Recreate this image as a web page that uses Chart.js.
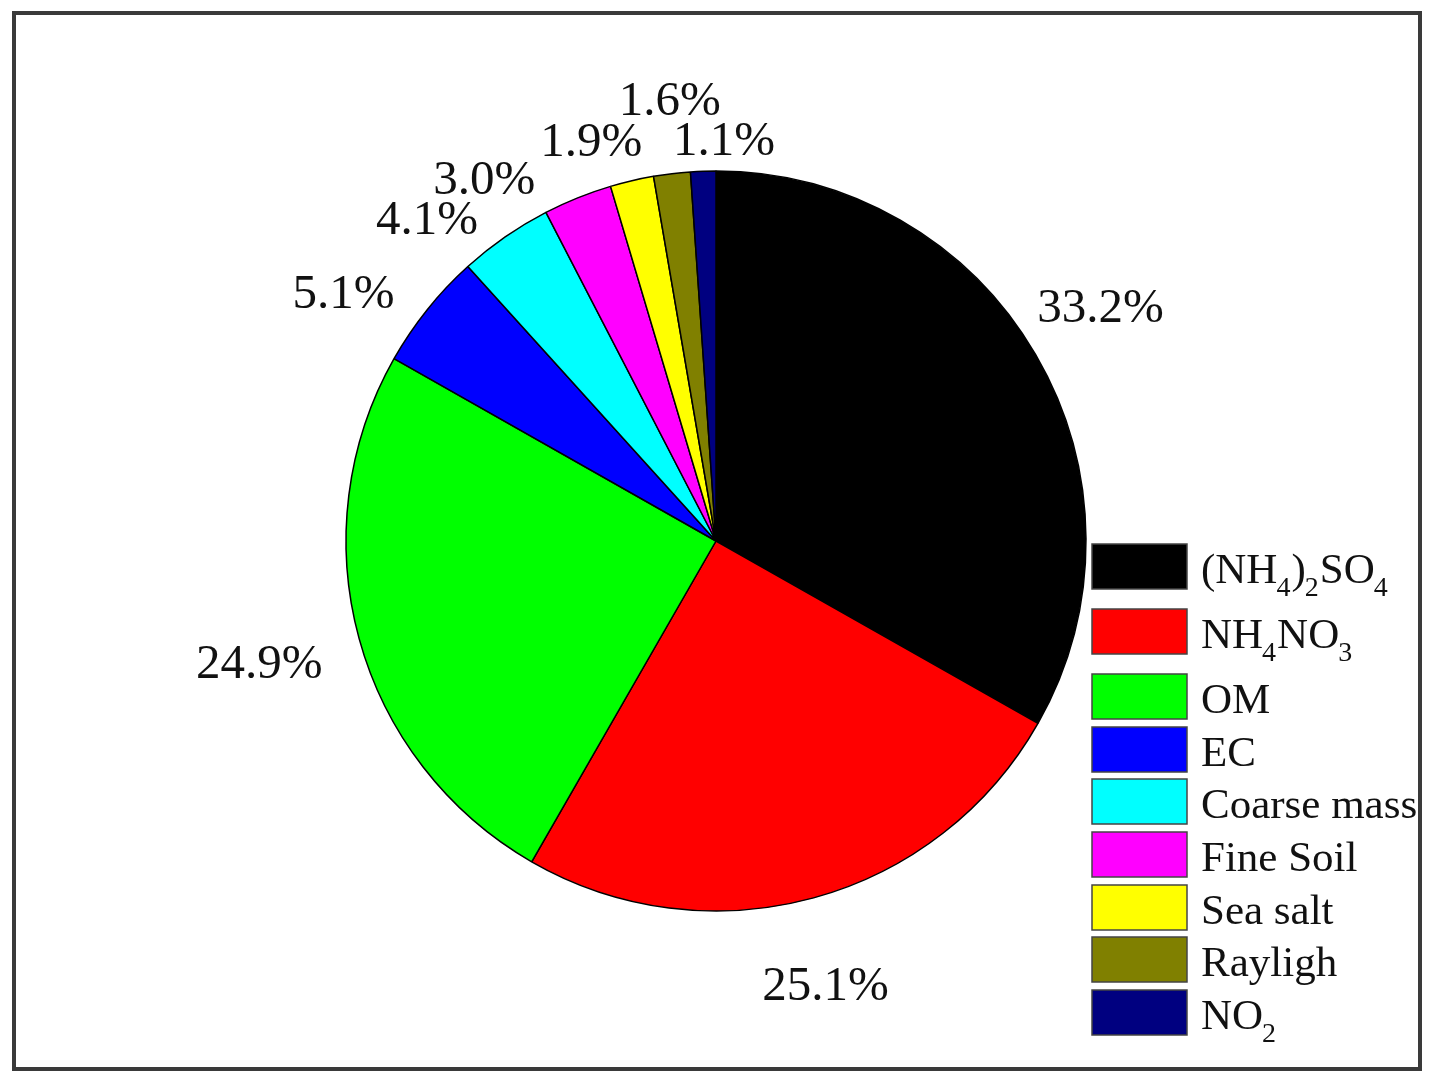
<!DOCTYPE html>
<html>
<head>
<meta charset="utf-8">
<script src="https://cdn.jsdelivr.net/npm/chart.js@4.4.0/dist/chart.umd.min.js"></script>
<style>
    html, body { margin: 0; padding: 0; background: #fff; }
    #wrap { width: 1437px; height: 1088px; position: relative; }
</style>
</head>
<body>
<div id="wrap"><canvas id="pieChart" width="1437" height="1088"></canvas></div>
<script>
// chart data
const categories = ['(NH4)2SO4', 'NH4NO3', 'OM', 'EC', 'Coarse mass', 'Fine Soil', 'Sea salt', 'Rayligh', 'NO2'];
const shares = [33.2, 25.1, 24.9, 5.1, 4.1, 3.0, 1.9, 1.6, 1.1];
const sliceColors = ['#000000', '#ff0000', '#00ff00', '#0000ff', '#00ffff', '#ff00ff', '#ffff00', '#808000', '#000080'];

// where the percent labels sit, nudged from the slice middle
const labelShift = [[13, -15], [-4, 31], [-42, 11], [-37, 23], [-44, 33], [-71, 39], [-27, 21], [5, -12], [23, 31]];

const serif = '"Times New Roman", "Liberation Serif", serif';
const textColor = '#111';

// formula labels: digits drawn as subscripts
function drawFormula(ctx, text, x, y, size) {
    let cx = x;
    for (const ch of text) {
        if (/[0-9]/.test(ch)) {
            ctx.font = Math.round(size * 0.64) + 'px ' + serif;
            ctx.fillText(ch, cx - 1, y + 13);
        } else {
            ctx.font = size + 'px ' + serif;
            ctx.fillText(ch, cx, y);
        }
        cx += ctx.measureText(ch).width;
    }
}

const decorations = {
    id: 'decorations',
    afterDraw(chart) {
        const ctx = chart.ctx;
        const meta = chart.getDatasetMeta(0);
        ctx.save();

        // outer frame
        ctx.strokeStyle = '#3a3a3a';
        ctx.lineWidth = 4;
        ctx.strokeRect(14, 13, 1406, 1056);

        // percent labels
        ctx.fillStyle = textColor;
        ctx.font = '49px ' + serif;
        ctx.textAlign = 'center';
        ctx.textBaseline = 'middle';
        meta.data.forEach((arc, i) => {
            const mid = (arc.startAngle + arc.endAngle) / 2;
            const d = arc.outerRadius + 60;
            const x = arc.x + Math.cos(mid) * d + labelShift[i][0];
            const y = arc.y + Math.sin(mid) * d + labelShift[i][1];
            ctx.fillText(shares[i].toFixed(1) + '%', x, y);
        });

        // legend
        const boxX = 1092, boxW = 95, boxH = 45;
        const rowTops = [544, 609, 674, 727, 779, 832, 885, 937, 990];
        ctx.textAlign = 'left';
        ctx.textBaseline = 'alphabetic';
        categories.forEach((name, i) => {
            const top = rowTops[i];
            ctx.fillStyle = sliceColors[i];
            ctx.fillRect(boxX, top, boxW, boxH);
            ctx.strokeStyle = '#444';
            ctx.lineWidth = 1.5;
            ctx.strokeRect(boxX, top, boxW, boxH);
            ctx.fillStyle = textColor;
            drawFormula(ctx, name, 1201, top + 39, 43);
        });

        ctx.restore();
    }
};

const config = {
    type: 'pie',
    data: {
        labels: categories,
        datasets: [{
            data: shares,
            backgroundColor: sliceColors,
            borderColor: '#000',
            borderWidth: 1.5,
            hoverOffset: 0
        }]
    },
    options: {
        responsive: false,
        animation: false,
        radius: 370,
        layout: { padding: { left: 0, right: 5, top: 0, bottom: 6 } },
        plugins: {
            legend: { display: false },
            tooltip: { enabled: false }
        },
        events: []
    },
    plugins: [decorations]
};

new Chart(document.getElementById('pieChart'), config);
</script>
</body>
</html>
